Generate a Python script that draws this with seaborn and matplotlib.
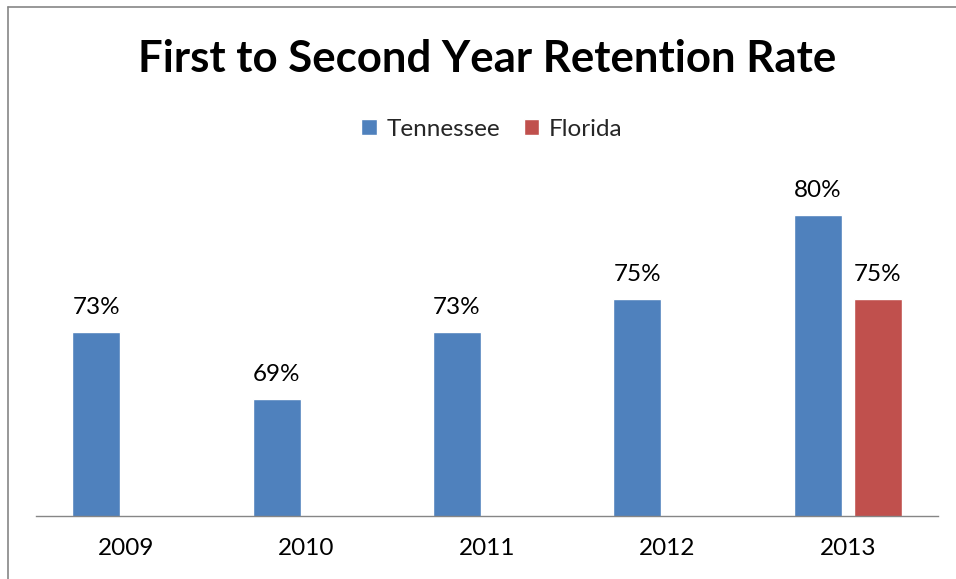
import numpy as np
import pandas as pd
import matplotlib
matplotlib.use("Agg")
import matplotlib.pyplot as plt
from matplotlib.lines import Line2D
import seaborn as sns

# ---- data ----
years = ["2009", "2010", "2011", "2012", "2013"]
tennessee = [73, 69, 73, 75, 80]
florida = [np.nan, np.nan, np.nan, np.nan, 75]
series_names = ["Tennessee", "Florida"]
colors = ["#4F81BD", "#C0504D"]
title = "First to Second Year Retention Rate"

df = pd.DataFrame({
    "Year": years * 2,
    "State": [series_names[0]] * len(years) + [series_names[1]] * len(years),
    "Rate": tennessee + florida,
})

sns.set_theme(style="white")
plt.rcParams["font.family"] = ["Lato", "DejaVu Sans"]

W, H = 956, 579
fig = plt.figure(figsize=(W / 100, H / 100), dpi=100)
fig.patch.set_facecolor("white")

ax_left, ax_right = 36, 938
ax_bottom, ax_top = 515.7, 182.0
ax = fig.add_axes([ax_left / W, 1 - ax_bottom / H,
                   (ax_right - ax_left) / W, (ax_bottom - ax_top) / H])

sns.barplot(data=df, x="Year", y="Rate", hue="State", order=years,
            hue_order=series_names, palette=colors, width=0.665, gap=0.2,
            dodge=True, ax=ax, saturation=1, legend=True)

ax.set_ylim(62, 82)
ax.set_xlim(-0.5, len(years) - 0.5)
ax.set_xlabel("")
ax.set_ylabel("")
ax.set_yticks([])
for s in ["left", "top", "right"]:
    ax.spines[s].set_visible(False)
ax.spines["bottom"].set_color("#868686")
ax.spines["bottom"].set_linewidth(1.0)
ax.tick_params(axis="x", length=0, pad=16, labelsize=17.5, colors="black")

for cont in ax.containers:
    ax.bar_label(cont, fmt="{:.0f}%", padding=10, fontsize=17.5, color="black")

# legend
handles, labels = ax.get_legend_handles_labels()
if ax.legend_:
    ax.legend_.remove()
fig.legend(handles, labels, loc="center", bbox_to_anchor=(492 / W, 1 - 129 / H),
           ncol=2, frameon=False, fontsize=17.5, handlelength=0.62,
           handleheight=0.62, handletextpad=0.4, columnspacing=1.0,
           borderaxespad=0, borderpad=0)

fig.text(487.5 / W, 1 - 59 / H, title, ha="center", va="center",
         fontsize=31.5, fontweight="bold", color="black")

# chart-area border (left and top edges visible)
bc = "#868686"
fig.add_artist(Line2D([7.5 / W, 7.5 / W], [0, 1 - 7 / H], transform=fig.transFigure,
                      color=bc, lw=1.2))
fig.add_artist(Line2D([7.5 / W, 1], [1 - 7 / H, 1 - 7 / H], transform=fig.transFigure,
                      color=bc, lw=1.2))

fig.savefig("out.png", dpi=100, facecolor="white")
